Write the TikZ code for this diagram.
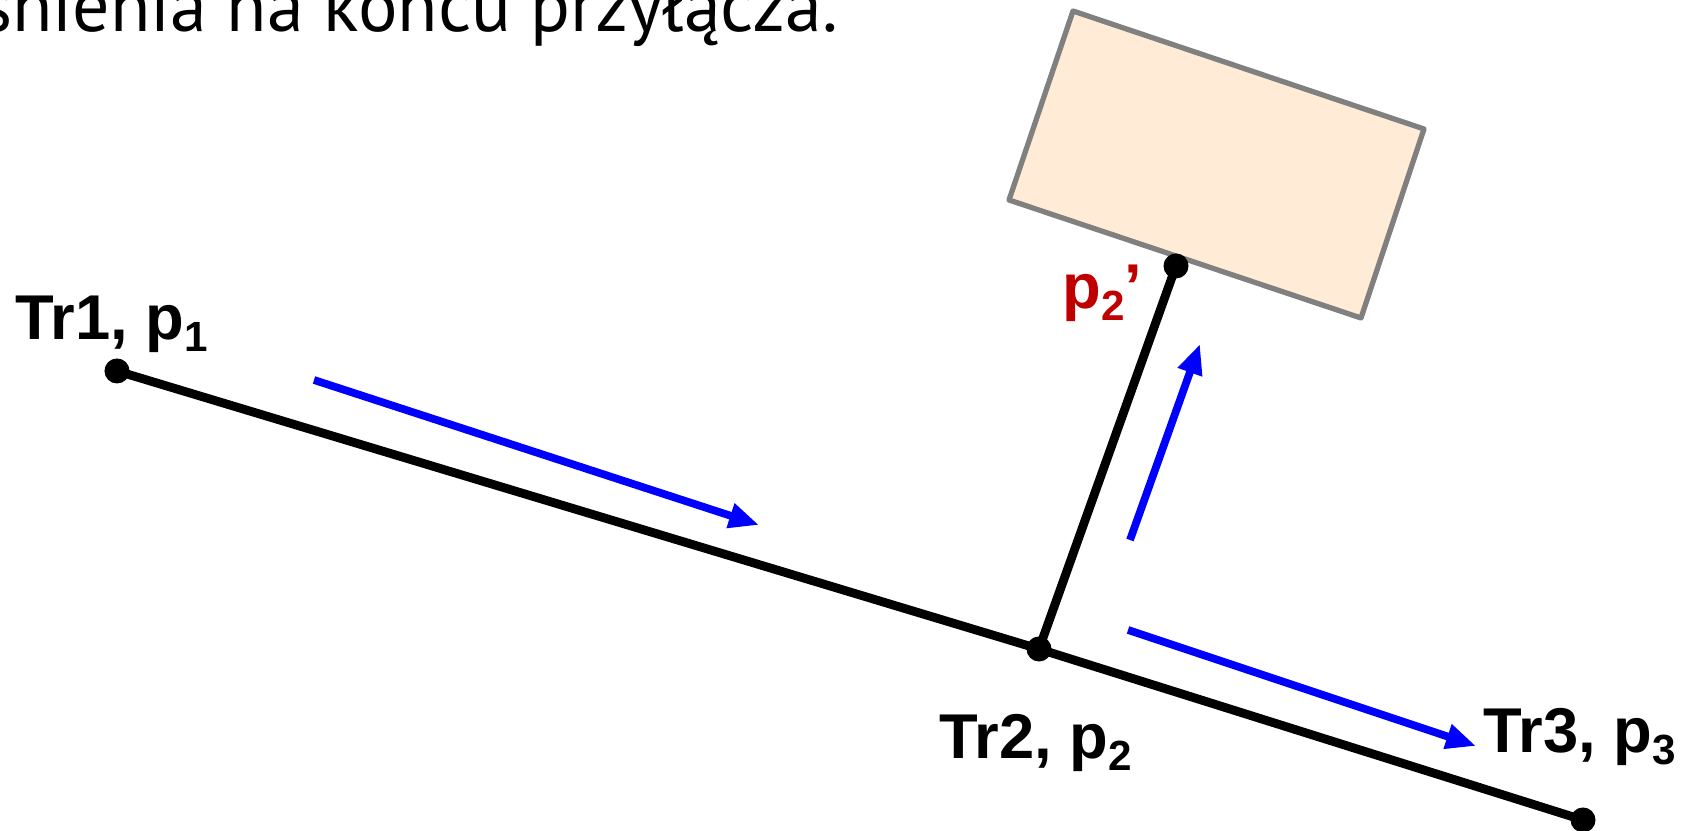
\documentclass[tikz,border=0pt]{standalone}
\usepackage{fontspec}
\setmainfont{Liberation Sans}
\newfontfamily\notefont{PT Sans}
\usetikzlibrary{arrows.meta, positioning}
\definecolor{flowcol}{RGB}{0, 0, 255}
\definecolor{housecol}{RGB}{255, 235, 214}
\definecolor{edgecol}{RGB}{128, 128, 128}
\definecolor{presscol}{RGB}{192, 0, 0}
\newcommand{\pidx}[1]{\raisebox{-0.35ex}{\fontsize{12}{12}\selectfont #1}}

\begin{document}
\begin{tikzpicture}[x=0.01cm, y=-0.01cm,
    pipe/.style={line width=2.5pt, draw=black},
    flow/.style={-{Triangle[length=0.3cm, width=0.24cm]}, line width=2.2pt, draw=flowcol},
    house/.style={draw=edgecol, fill=housecol, line width=1.5pt, line join=round},
    dot/.style={circle, fill=black, inner sep=0pt, minimum size=0.25cm},
    trlabel/.style={font=\fontsize{18}{18}\selectfont\bfseries, inner sep=0pt},
    note/.style={font=\notefont\fontsize{21}{21}\selectfont, inner sep=0pt},
]
  \useasboundingbox (0,0) rectangle (1687,831);

  \node[note, anchor=base east] (note) at (839,32) {śnienia na końcu przyłącza.};

  % building
  \coordinate (hA) at (1073,11);
  \coordinate (hB) at (1424,129);
  \coordinate (hC) at (1361,318);
  \coordinate (hD) at (1009,200);
  \draw[house] (hA) -- (hB) -- (hC) -- (hD) -- cycle;

  \node[dot] (d1) at (117,371) {};
  \node[dot] (d2) at (1039,649) {};
  \node[dot] (d3) at (1583,820) {};
  \node[dot] (d2b) at (1176,266) {};

  \draw[pipe] (d1.center) -- (d2.center) -- (d3.center);
  \draw[pipe] (d2.center) -- (d2b.center);

  % flow directions
  \coordinate (f1s) at (314,380);  \coordinate (f1e) at (759,525);
  \coordinate (f2s) at (1130,540); \coordinate (f2e) at (1200,344);
  \coordinate (f3s) at (1128,630); \coordinate (f3e) at (1476,746);
  \draw[flow] (f1s) -- (f1e);
  \draw[flow] (f2s) -- (f2e);
  \draw[flow] (f3s) -- (f3e);

  \node[trlabel, anchor=base west] (l1) at (15,340) {Tr1, p\pidx{1}};
  \node[trlabel, anchor=base west] (l2) at (939,759) {Tr2, p\pidx{2}};
  \node[trlabel, anchor=base west] (l3) at (1483,753) {Tr3, p\pidx{3}};
  \node[trlabel, text=presscol, anchor=base west] (l2b) at (1062,309) {p\pidx{2}’};
\end{tikzpicture}
\end{document}
